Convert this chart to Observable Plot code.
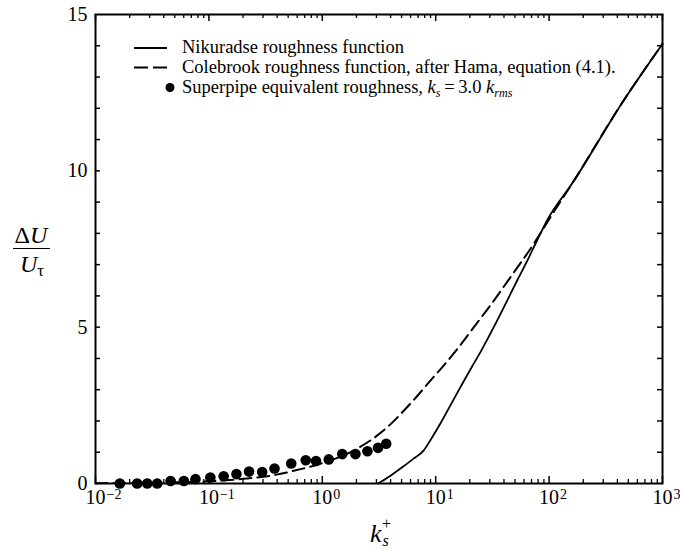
<!DOCTYPE html>
<html><head><meta charset="utf-8">
<script src="https://cdn.jsdelivr.net/npm/d3@7"></script>
<script src="https://cdn.jsdelivr.net/npm/@observablehq/plot@0.6"></script>
<style>body{margin:0;background:#fff}</style>
</head><body><div id="chart"></div>
<script>
// Nikuradse roughness function (solid)
const nikuradseX = [3.1, 4.0, 4.9, 6.3, 7.85, 9.2, 11.0, 15.5, 21.0, 24.8, 32.5, 42.7, 52.4, 64.1, 78.5, 96.2, 160, 456, 1000];
const nikuradseY = [0.0, 0.25, 0.48, 0.78, 1.06, 1.45, 1.92, 2.9, 3.75, 4.2, 5.0, 5.85, 6.5, 7.12, 7.78, 8.42, 9.6, 12.26, 14.06];
// Colebrook roughness function (dashed)
const colebrookX = [0.01, 0.05, 0.1, 0.2, 0.35, 0.643, 1.0, 1.9, 3.48, 6.0, 9.6, 11.8, 15.5, 21.7, 30.4, 42.7, 73.3, 102.8, 160, 456, 1000];
const colebrookY = [0.01, 0.04, 0.07, 0.15, 0.25, 0.46, 0.65, 1.06, 1.70, 2.56, 3.41, 3.78, 4.3, 5.0, 5.7, 6.45, 7.67, 8.52, 9.6, 12.26, 14.06];
// Superpipe equivalent roughness (dots)
const superpipeX = [0.0164, 0.0233, 0.0286, 0.0350, 0.0459, 0.0601, 0.0762, 0.103, 0.135, 0.175, 0.226, 0.295, 0.379, 0.532, 0.714, 0.880, 1.14, 1.50, 1.96, 2.50, 3.10, 3.66];
const superpipeY = [0.0, 0.0, 0.0, 0.0, 0.08, 0.08, 0.14, 0.19, 0.23, 0.30, 0.38, 0.37, 0.48, 0.64, 0.745, 0.72, 0.77, 0.94, 0.94, 1.03, 1.14, 1.27];

// ticks and tick labels
const xMajor = [1e-2, 1e-1, 1e0, 1e1, 1e2, 1e3];
const xExponents = ["\u22122", "\u22121", "0", "1", "2", "3"];
const xMinorMantissas = [2, 3, 4, 5, 6, 7, 8, 9];
const xMinor = [1e-2, 1e-1, 1e0, 1e1, 1e2].flatMap(p => xMinorMantissas.map(m => m * p));
const yMinor = [1, 2, 3, 4, 5, 6, 7, 8, 9, 10, 11, 12, 13, 14];
const yLabels = [0, 5, 10, 15];

const legendLabels = ["Nikuradse roughness function", "Colebrook roughness function, after Hama, equation (4.1).", "Superpipe equivalent roughness, "];

const nikuradse = nikuradseX.map((x, i) => ({x, y: nikuradseY[i]}));
const colebrook = colebrookX.map((x, i) => ({x, y: colebrookY[i]}));
const superpipe = superpipeX.map((x, i) => ({x, y: superpipeY[i]}));

const W = 680, H = 549, mL = 95, mR = 18, mT = 14, mB = 66;
const plotW = W - mL - mR, plotH = H - mT - mB;
const FONT = "'Liberation Serif', 'Times New Roman', serif";

const chart = Plot.plot({
  width: W, height: H,
  marginLeft: mL, marginRight: mR, marginTop: mT, marginBottom: mB,
  style: {fontFamily: FONT, fontSize: "20px", background: "white", color: "black"},
  x: {type: "log", domain: [1e-2, 1e3], axis: null},
  y: {domain: [0, 15], axis: null},
  marks: [
    Plot.line(colebrook, {x: "x", y: "y", stroke: "black", strokeWidth: 2, strokeDasharray: "12,6", curve: "monotone-x"}),
    Plot.line(nikuradse, {x: "x", y: "y", stroke: "black", strokeWidth: 1.8, curve: "monotone-x"}),
    Plot.dot(superpipe, {x: "x", y: "y", r: 5.3, fill: "black", stroke: "none"}),
    // inward ticks
    Plot.tickY(yMinor, {y: d => d, insetRight: plotW - 5, stroke: "black", strokeWidth: 1.5}),
    Plot.tickY(yMinor, {y: d => d, insetLeft: plotW - 5, stroke: "black", strokeWidth: 1.5}),
    Plot.tickX(xMajor, {x: d => d, insetTop: plotH - 7, stroke: "black", strokeWidth: 1.5}),
    Plot.tickX(xMajor, {x: d => d, insetBottom: plotH - 7, stroke: "black", strokeWidth: 1.5}),
    Plot.tickX(xMinor, {x: d => d, insetTop: plotH - 4, stroke: "black", strokeWidth: 1.3}),
    Plot.tickX(xMinor, {x: d => d, insetBottom: plotH - 4, stroke: "black", strokeWidth: 1.3}),
    Plot.frame({stroke: "black", strokeWidth: 2}),
    Plot.axisY({ticks: yLabels, tickSize: 0, tickPadding: 8, fontSize: 20, label: null, tickFormat: d => String(d)}),
    Plot.text(xMajor, {x: d => d, frameAnchor: "bottom", text: () => "10", dy: 20, fontSize: 20, textAnchor: "middle"}),
    Plot.text(xMajor, {x: d => d, frameAnchor: "bottom", text: (d, i) => xExponents[i], dx: 11, dy: 15, fontSize: 14, textAnchor: "start"})
  ]
});
document.getElementById("chart").appendChild(chart);

// typographic decorations: axis labels and legend
const svg = d3.select(chart);
const g = svg.append("g").attr("font-family", FONT).attr("fill", "black").attr("text-anchor", "start");

// y label: ΔU / U_τ
const yl = g.append("text").attr("x", 31).attr("y", 243).attr("text-anchor", "middle").attr("font-size", 24);
yl.append("tspan").text("\u0394");
yl.append("tspan").attr("font-style", "italic").text("U");
g.append("line").attr("x1", 13).attr("x2", 50).attr("y1", 248.5).attr("y2", 248.5).attr("stroke", "black").attr("stroke-width", 1.2);
const yl2 = g.append("text").attr("x", 20).attr("y", 271.5).attr("font-size", 24).attr("text-anchor", "start");
yl2.append("tspan").attr("font-style", "italic").text("U");
yl2.append("tspan").attr("font-size", 17).attr("dy", 4).text("\u03c4");

// x label: k_s^+
g.append("text").attr("x", 370).attr("y", 541.5).attr("font-size", 26).attr("font-style", "italic").attr("text-anchor", "start").text("k");
g.append("text").attr("x", 382.5).attr("y", 546).attr("font-size", 16).attr("font-style", "italic").attr("text-anchor", "start").text("s");
g.append("text").attr("x", 382).attr("y", 529).attr("font-size", 16).attr("text-anchor", "start").text("+");

// legend
g.append("line").attr("x1", 134).attr("x2", 167).attr("y1", 48).attr("y2", 48).attr("stroke", "black").attr("stroke-width", 2);
g.append("line").attr("x1", 134).attr("x2", 167).attr("y1", 67.5).attr("y2", 67.5).attr("stroke", "black").attr("stroke-width", 2).attr("stroke-dasharray", "14,5");
g.append("circle").attr("cx", 170).attr("cy", 87.5).attr("r", 4.5);
const lt = [53, 72.5, 92.5];
g.append("text").attr("x", 182).attr("y", lt[0]).attr("font-size", 18.5).attr("text-anchor", "start").text(legendLabels[0]);
g.append("text").attr("x", 182).attr("y", lt[1]).attr("font-size", 18.5).attr("text-anchor", "start").text(legendLabels[1]);
const l3 = g.append("text").attr("x", 182).attr("y", lt[2]).attr("font-size", 18.5).attr("text-anchor", "start");
l3.append("tspan").text(legendLabels[2]);
l3.append("tspan").attr("font-style", "italic").text("k");
l3.append("tspan").attr("font-style", "italic").attr("font-size", 12).attr("dy", 4).text("s");
l3.append("tspan").attr("dy", -4).text("\u2009=\u20093.0 ");
l3.append("tspan").attr("font-style", "italic").text("k");
l3.append("tspan").attr("font-style", "italic").attr("font-size", 12).attr("dy", 4).text("rms");
</script>
</body></html>
